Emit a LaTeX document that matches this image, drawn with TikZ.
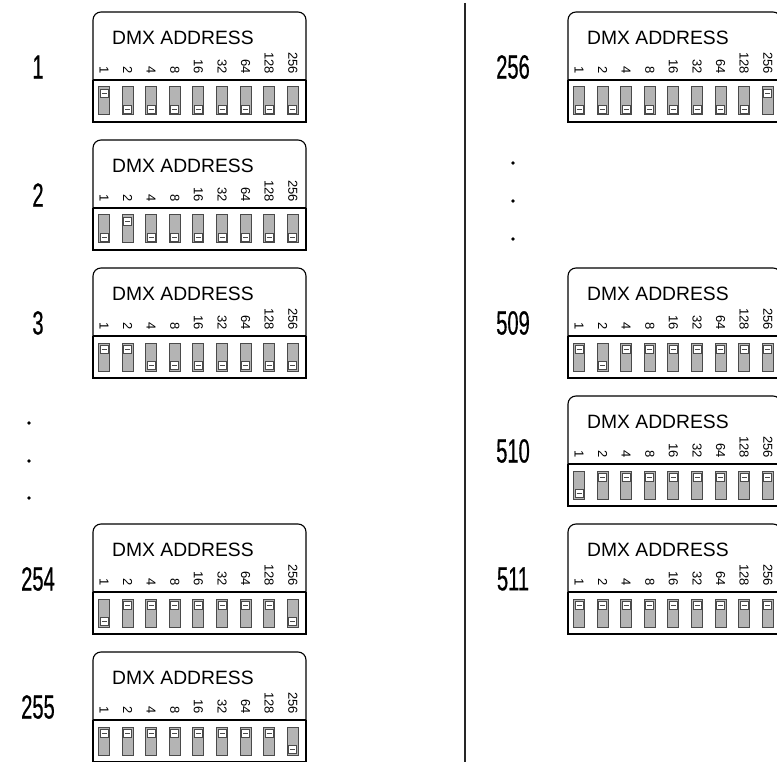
\documentclass[tikz,border=0pt]{standalone}
\usepackage{fontspec}
\setmainfont{Liberation Sans}
\newfontfamily\numfont[FakeStretch=0.6,FakeBold=0.5]{Liberation Sans}
\definecolor{swfill}{HTML}{B4B4B4}
\definecolor{swedge}{HTML}{4A4A4A}
\tikzset{
 boxline/.style={line width=1.1pt, black},
 lowline/.style={line width=1.6pt, black},
 title/.style={anchor=west, inner sep=0pt, font=\fontsize{19.3}{22}\selectfont},
 bitlab/.style={anchor=east, rotate=-90, inner sep=0pt, font=\fontsize{13}{15}\selectfont},
 numlab/.style={inner sep=0pt, font=\numfont\fontsize{33.5}{36}\selectfont},
 swbody/.style={draw=swedge, fill=swfill, line width=1pt, minimum width=11pt, minimum height=28pt, inner sep=0pt},
 swknob/.style={draw=swedge, fill=white, line width=0.8pt, minimum width=8pt, minimum height=8pt, inner sep=0pt},
 dotmark/.style={circle, fill=black, inner sep=0pt, minimum size=3.8pt},
 divline/.style={line width=1.2pt, black!85},
}
\newcommand{\dmxpanel}[5]{%
\begin{scope}[shift={(#1,#2)}]
\node[numlab] (#3-n) at (-55,55) {#4};
\draw[boxline, rounded corners=8pt] (0,68) -- (0,0) -- (213,0) -- (213,68);
\draw[boxline] (0,68) -- (213,68);
\draw[lowline] (0,68) -- (0,110) -- (213,110) -- (213,68);
\node[title] (#3-t) at (19,26) {DMX ADDRESS};
\foreach \b [count=\i from 0] in {1,2,4,8,16,32,64,128,256}
 \node[bitlab] (#3-l\i) at ({11+23.6*\i},62) {\b};
\foreach \s [count=\i from 0] in {#5} {
 \node[swbody] (#3-s\i) at ({11+23.6*\i},89) {};
 \ifnum\s=1
  \node[swknob] (#3-k\i) at ({11+23.6*\i},81) {};
 \else
  \node[swknob] (#3-k\i) at ({11+23.6*\i},97) {};
 \fi
 \draw[swedge, line width=0.7pt] ([xshift=-2.5pt]#3-k\i.center) -- ([xshift=2.5pt]#3-k\i.center);
}
\end{scope}}
\begin{document}
\begin{tikzpicture}[x=1pt,y=-1pt]
\useasboundingbox (0,0) rectangle (777,762);
\clip (0,0) rectangle (777,762);
\dmxpanel{93}{12}{p1}{1}{1,0,0,0,0,0,0,0,0}
\dmxpanel{93}{140}{p2}{2}{0,1,0,0,0,0,0,0,0}
\dmxpanel{93}{268}{p3}{3}{1,1,0,0,0,0,0,0,0}
\dmxpanel{93}{524}{p254}{254}{0,1,1,1,1,1,1,1,0}
\dmxpanel{93}{652}{p255}{255}{1,1,1,1,1,1,1,1,0}
\dmxpanel{568}{12}{p256}{256}{0,0,0,0,0,0,0,0,1}
\dmxpanel{568}{268}{p509}{509}{1,0,1,1,1,1,1,1,1}
\dmxpanel{568}{396}{p510}{510}{0,1,1,1,1,1,1,1,1}
\dmxpanel{568}{524}{p511}{511}{1,1,1,1,1,1,1,1,1}
\node[dotmark] (ld1) at (29,423) {};
\node[dotmark] (ld2) at (29,461) {};
\node[dotmark] (ld3) at (29,498) {};
\node[dotmark] (rd1) at (513,163) {};
\node[dotmark] (rd2) at (513,201) {};
\node[dotmark] (rd3) at (513,239) {};
\coordinate (dtop) at (465,3);
\coordinate (dbot) at (465,762);
\draw[divline] (dtop) -- (dbot);
\end{tikzpicture}
\end{document}
